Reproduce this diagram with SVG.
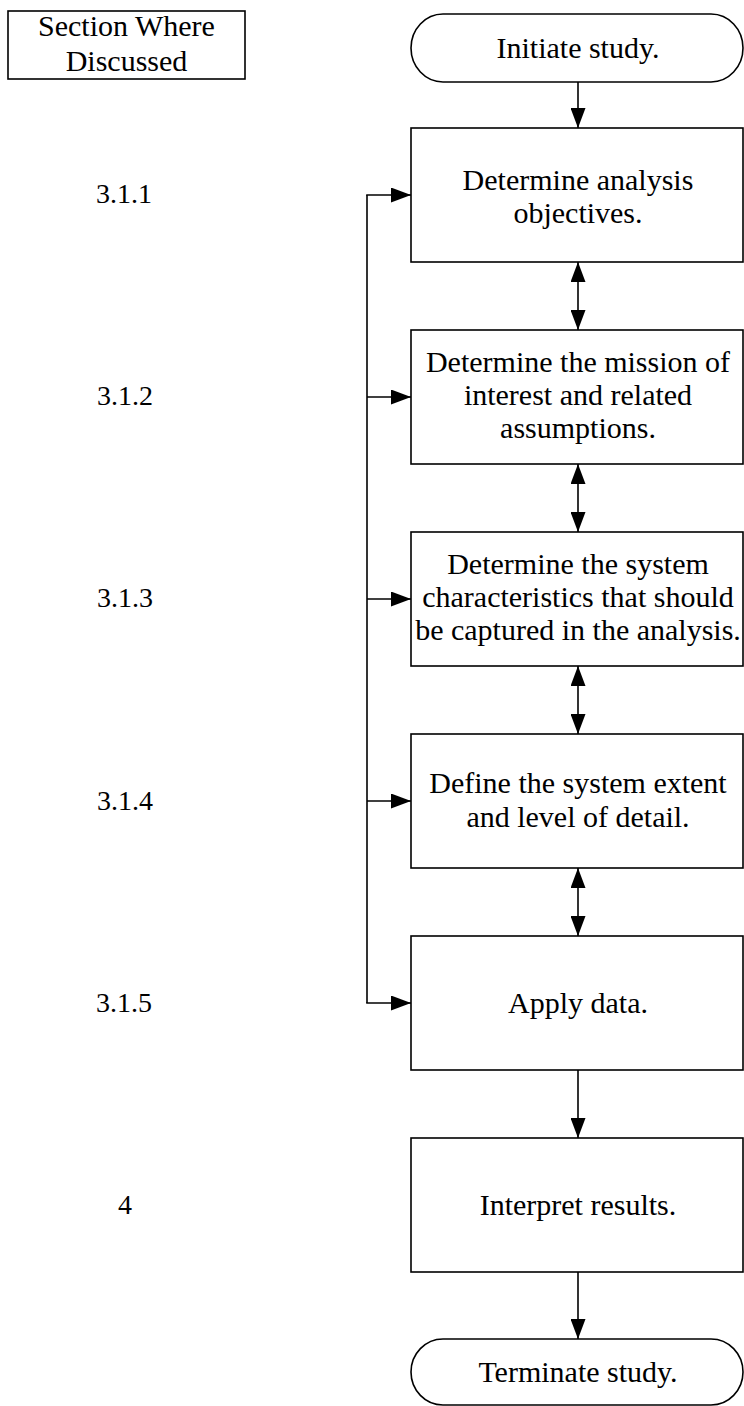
<svg xmlns="http://www.w3.org/2000/svg" width="744" height="1406" viewBox="0 0 744 1406">
<defs>
<style>
.box{fill:#fff;stroke:#000;stroke-width:1.6}
.t{font-family:"Liberation Serif","Times New Roman",serif;font-size:30px;fill:#000;text-anchor:middle}
.n{font-size:28px}
.ln{fill:none;stroke:#000;stroke-width:1.6}
</style>
<marker id="ah" markerUnits="userSpaceOnUse" markerWidth="20" markerHeight="15" refX="20" refY="7.5" orient="auto-start-reverse" viewBox="0 0 20 15">
<path d="M0,0 L20,7.5 L0,15 z" fill="#000"/>
</marker>
</defs>
<rect width="744" height="1406" fill="#fff"/>
<g id="header">
<rect class="box" x="8" y="11" width="237" height="68"/>
<text class="t" x="126.5" y="36">Section Where</text>
<text class="t" x="126.5" y="71">Discussed</text>
</g>
<g id="sections">
<text class="t n" x="124" y="203">3.1.1</text>
<text class="t n" x="125" y="405">3.1.2</text>
<text class="t n" x="125" y="607">3.1.3</text>
<text class="t n" x="125" y="810">3.1.4</text>
<text class="t n" x="124" y="1012">3.1.5</text>
<text class="t n" x="125" y="1214">4</text>
</g>
<g id="connectors">
<line class="ln" x1="578" y1="82" x2="578" y2="128" marker-end="url(#ah)"/>
<line class="ln" x1="578" y1="262" x2="578" y2="330" marker-start="url(#ah)" marker-end="url(#ah)"/>
<line class="ln" x1="578" y1="464" x2="578" y2="532" marker-start="url(#ah)" marker-end="url(#ah)"/>
<line class="ln" x1="578" y1="666" x2="578" y2="734" marker-start="url(#ah)" marker-end="url(#ah)"/>
<line class="ln" x1="578" y1="868" x2="578" y2="936" marker-start="url(#ah)" marker-end="url(#ah)"/>
<line class="ln" x1="578" y1="1070" x2="578" y2="1138" marker-end="url(#ah)"/>
<line class="ln" x1="578" y1="1272" x2="578" y2="1339" marker-end="url(#ah)"/>
<line class="ln" x1="367" y1="195" x2="367" y2="1003"/>
<line class="ln" x1="366.2" y1="195" x2="411" y2="195" marker-end="url(#ah)"/>
<line class="ln" x1="367" y1="397" x2="411" y2="397" marker-end="url(#ah)"/>
<line class="ln" x1="367" y1="599" x2="411" y2="599" marker-end="url(#ah)"/>
<line class="ln" x1="367" y1="801" x2="411" y2="801" marker-end="url(#ah)"/>
<line class="ln" x1="366.2" y1="1003" x2="411" y2="1003" marker-end="url(#ah)"/>
</g>
<g id="start">
<rect class="box" x="411" y="14" width="332" height="68" rx="32" ry="34"/>
<text class="t" x="578" y="58">Initiate study.</text>
</g>
<g id="objectives">
<rect class="box" x="411" y="128" width="332" height="134"/>
<text class="t" x="578" y="190">Determine analysis</text>
<text class="t" x="578" y="223">objectives.</text>
</g>
<g id="mission">
<rect class="box" x="411" y="330" width="332" height="134"/>
<text class="t" x="578" y="372">Determine the mission of</text>
<text class="t" x="578" y="405">interest and related</text>
<text class="t" x="578" y="438">assumptions.</text>
</g>
<g id="characteristics">
<rect class="box" x="411" y="532" width="332" height="134"/>
<text class="t" x="578" y="574">Determine the system</text>
<text class="t" x="578" y="607">characteristics that should</text>
<text class="t" x="578" y="640">be captured in the analysis.</text>
</g>
<g id="extent">
<rect class="box" x="411" y="734" width="332" height="134"/>
<text class="t" x="578" y="793">Define the system extent</text>
<text class="t" x="578" y="827">and level of detail.</text>
</g>
<g id="apply">
<rect class="box" x="411" y="936" width="332" height="134"/>
<text class="t" x="578" y="1013">Apply data.</text>
</g>
<g id="interpret">
<rect class="box" x="411" y="1138" width="332" height="134"/>
<text class="t" x="578" y="1215">Interpret results.</text>
</g>
<g id="end">
<rect class="box" x="411" y="1339" width="332" height="66" rx="32" ry="33"/>
<text class="t" x="578" y="1382">Terminate study.</text>
</g>
</svg>
